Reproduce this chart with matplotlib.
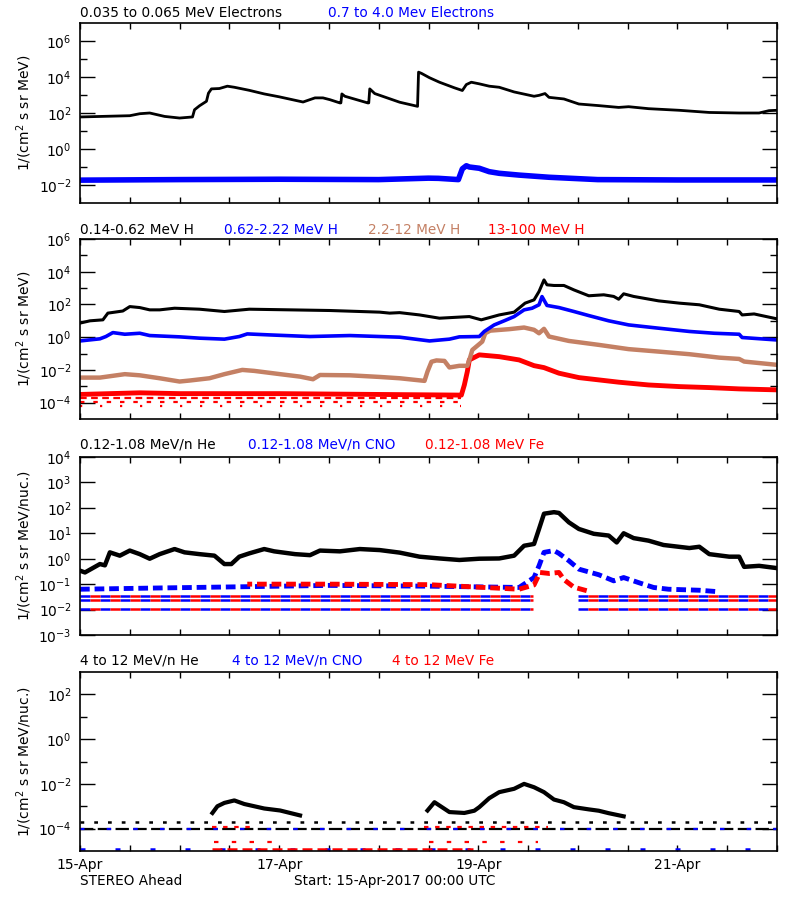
import numpy as np
import matplotlib
matplotlib.use('Agg')
import matplotlib.pyplot as plt
from matplotlib.ticker import FixedLocator, NullFormatter, FuncFormatter

# ---------------- data (time in days since 15-Apr-2017 00:00 UTC, values as log10) -------------
# Panel 1: electrons
e_lo_t = [0.00, 0.50, 0.60, 0.70, 0.85, 1.00, 1.13, 1.15, 1.20, 1.27, 1.29, 1.32, 1.40, 1.48, 1.55,
          1.70, 1.85, 2.00, 2.24, 2.36, 2.44, 2.51, 2.61, 2.62, 2.63, 2.66, 2.89, 2.90, 2.91, 2.96,
          3.21, 3.39, 3.40, 3.43, 3.51, 3.61, 3.76, 3.84, 3.88, 3.93, 4.01, 4.11, 4.21, 4.36, 4.56,
          4.61, 4.67, 4.71, 4.86, 5.01, 5.21, 5.41, 5.51, 5.71, 6.02, 6.32, 6.62, 6.82, 6.92, 7.00]
e_lo_v = [1.78, 1.85, 1.96, 2.00, 1.81, 1.72, 1.78, 2.18, 2.40, 2.65, 3.10, 3.34, 3.36, 3.49, 3.43,
          3.26, 3.06, 2.90, 2.61, 2.84, 2.84, 2.74, 2.56, 2.56, 3.06, 2.93, 2.56, 2.56, 3.34, 3.08,
          2.60, 2.37, 4.27, 4.20, 3.96, 3.71, 3.40, 3.25, 3.58, 3.71, 3.62, 3.49, 3.43, 3.17, 2.93,
          2.98, 3.08, 2.87, 2.78, 2.50, 2.41, 2.31, 2.35, 2.24, 2.15, 2.03, 2.00, 2.00, 2.13, 2.15]
e_hi_t = [0.00, 1.00, 2.00, 3.00, 3.50, 3.60, 3.80, 3.84, 3.88, 3.91, 4.01, 4.11, 4.21, 4.41, 4.71, 5.20, 6.00, 7.00]
e_hi_v = [-1.73, -1.70, -1.68, -1.70, -1.62, -1.63, -1.70, -1.10, -0.93, -1.00, -1.07, -1.26, -1.35,
          -1.45, -1.57, -1.70, -1.72, -1.72]

# Panel 2: protons
h1_t = [0.00, 0.10, 0.23, 0.28, 0.35, 0.43, 0.50, 0.60, 0.70, 0.80, 0.95, 1.20, 1.45, 1.70, 2.11, 2.51,
        3.01, 3.11, 3.21, 3.41, 3.61, 3.91, 4.03, 4.21, 4.36, 4.47, 4.56, 4.61, 4.66, 4.69, 4.76, 4.86,
        4.96, 5.11, 5.26, 5.36, 5.41, 5.46, 5.56, 5.81, 6.02, 6.22, 6.42, 6.62, 6.65, 6.77, 7.00]
h1_v = [0.86, 1.00, 1.06, 1.47, 1.53, 1.60, 1.87, 1.81, 1.67, 1.67, 1.77, 1.71, 1.57, 1.71, 1.67, 1.63,
        1.53, 1.47, 1.50, 1.36, 1.16, 1.26, 1.06, 1.36, 1.53, 2.08, 2.28, 2.79, 3.50, 3.20, 3.16, 3.16,
        2.89, 2.53, 2.59, 2.49, 2.32, 2.65, 2.49, 2.22, 2.08, 1.98, 1.71, 1.57, 1.36, 1.42, 1.12]
h2_t = [0.00, 0.20, 0.26, 0.33, 0.45, 0.60, 0.70, 1.00, 1.20, 1.45, 1.60, 1.68, 1.90, 2.31, 2.71, 3.21,
        3.51, 3.71, 3.81, 4.01, 4.06, 4.16, 4.26, 4.36, 4.46, 4.54, 4.61, 4.64, 4.69, 4.81, 4.96, 5.11,
        5.31, 5.51, 5.81, 6.12, 6.37, 6.62, 6.65, 7.00]
h2_v = [-0.23, -0.10, 0.04, 0.28, 0.18, 0.24, 0.10, 0.02, -0.06, -0.12, 0.04, 0.20, 0.14, 0.04, 0.10, 0.00,
        -0.23, -0.12, 0.02, 0.04, 0.35, 0.75, 1.00, 1.26, 1.67, 1.77, 1.98, 2.48, 1.94, 1.81, 1.57, 1.32,
        1.00, 0.75, 0.55, 0.35, 0.24, 0.18, -0.02, -0.17]
h3_t = [0.00, 0.20, 0.45, 0.60, 0.80, 1.00, 1.10, 1.30, 1.45, 1.63, 1.75, 2.01, 2.21, 2.34, 2.41, 2.71,
        3.01, 3.21, 3.46, 3.49, 3.53, 3.58, 3.66, 3.71, 3.81, 3.89, 3.92, 3.94, 4.04, 4.07, 4.12, 4.31,
        4.46, 4.56, 4.61, 4.66, 4.71, 4.91, 5.21, 5.51, 5.81, 6.12, 6.42, 6.62, 6.67, 7.00]
h3_v = [-2.47, -2.47, -2.26, -2.33, -2.51, -2.71, -2.65, -2.51, -2.26, -2.00, -2.06, -2.26, -2.41, -2.57,
        -2.31, -2.33, -2.43, -2.51, -2.67, -2.10, -1.50, -1.42, -1.45, -1.85, -1.75, -1.75, -1.20, -0.78,
        -0.27, 0.24, 0.40, 0.49, 0.59, 0.45, 0.24, 0.51, 0.04, -0.23, -0.47, -0.73, -0.88, -1.04, -1.25,
        -1.33, -1.49, -1.69]
h4_t = [0.00, 0.60, 1.00, 2.00, 3.00, 3.83, 3.86, 3.89, 3.91, 4.01, 4.21, 4.41, 4.56, 4.66, 4.81, 5.01,
        5.21, 5.41, 5.71, 6.02, 6.32, 6.62, 7.00]
h4_v = [-3.50, -3.40, -3.45, -3.45, -3.50, -3.54, -2.92, -2.10, -1.39, -1.08, -1.19, -1.39, -1.74, -1.86,
        -2.20, -2.47, -2.61, -2.75, -2.92, -3.02, -3.08, -3.16, -3.22]
h4_floor = [-3.73, -3.94, -4.20]
h4_floor_end = 3.83

# Panel 3: 0.12-1.08 MeV/n ions
he_lo_t = [0.00, 0.05, 0.20, 0.25, 0.30, 0.40, 0.50, 0.60, 0.70, 0.80, 0.95, 1.05, 1.20, 1.35, 1.45, 1.52,
           1.60, 1.70, 1.85, 1.95, 2.16, 2.31, 2.41, 2.61, 2.81, 3.01, 3.21, 3.41, 3.61, 3.81, 4.01, 4.21,
           4.36, 4.46, 4.56, 4.61, 4.66, 4.76, 4.81, 4.91, 5.01, 5.16, 5.31, 5.39, 5.46, 5.56, 5.71, 5.86,
           6.12, 6.22, 6.32, 6.52, 6.62, 6.67, 6.82, 7.00]
he_lo_v = [-0.47, -0.54, -0.21, -0.26, 0.25, 0.12, 0.32, 0.18, 0.00, 0.18, 0.38, 0.25, 0.18, 0.12, -0.21,
           -0.21, 0.08, 0.21, 0.38, 0.29, 0.18, 0.14, 0.32, 0.29, 0.38, 0.34, 0.24, 0.08, 0.01, -0.05, 0.00,
           0.01, 0.12, 0.51, 0.58, 1.17, 1.77, 1.83, 1.80, 1.43, 1.17, 0.98, 0.91, 0.64, 1.00, 0.81, 0.71,
           0.54, 0.42, 0.47, 0.18, 0.08, 0.08, -0.32, -0.28, -0.37]
cno_lo_t = [0.00, 0.80, 1.68, 2.50, 3.50, 4.41, 4.56, 4.61, 4.66, 4.76, 4.81, 4.91, 5.01, 5.21, 5.36, 5.46,
            5.61, 5.76, 5.91, 6.22, 6.42]
cno_lo_v = [-1.20, -1.15, -1.10, -1.05, -1.08, -1.13, -0.74, -0.28, 0.25, 0.32, 0.21, -0.08, -0.41, -0.63,
            -0.87, -0.74, -0.94, -1.13, -1.20, -1.24, -1.30]
fe_lo_t = [1.68, 2.50, 3.50, 4.41, 4.56, 4.62, 4.71, 4.81, 4.86, 4.96, 5.11]
fe_lo_v = [-1.00, -1.00, -1.02, -1.20, -1.03, -0.54, -0.58, -0.54, -0.82, -1.12, -1.28]
lo_floor = [-1.46, -1.63, -1.96]
lo_floor_gap = (4.55, 5.00)

# Panel 4: 4-12 MeV/n ions
he_hi1_t = [1.33, 1.38, 1.45, 1.55, 1.65, 1.75, 1.85, 2.01, 2.21]
he_hi1_v = [-3.30, -3.00, -2.85, -2.74, -2.90, -3.00, -3.10, -3.19, -3.41]
he_hi2_t = [3.49, 3.56, 3.71, 3.86, 3.96, 4.01, 4.11, 4.21, 4.36, 4.46, 4.56, 4.66, 4.76, 4.86, 4.96, 5.11,
            5.21, 5.31, 5.46]
he_hi2_v = [-3.19, -2.82, -3.26, -3.30, -3.20, -3.04, -2.64, -2.37, -2.22, -2.00, -2.15, -2.37, -2.70, -2.82,
            -3.04, -3.14, -3.20, -3.31, -3.45]
he_hi_quiet = -3.70
hi_floor = [-4.00, -4.89]
hi_mid_row = -4.60
hi_mid_spans = [(1.35, 2.00), (3.50, 4.60)]
hi_event_fe = -3.93
hi_event_spans = [(1.33, 1.75), (3.45, 4.70)]

# titles
titles = [
    [("0.035 to 0.065 MeV Electrons", 80, "black"), ("0.7 to 4.0 Mev Electrons", 328, "blue")],
    [("0.14-0.62 MeV H", 80, "black"), ("0.62-2.22 MeV H", 224, "blue"),
     ("2.2-12 MeV H", 368, "#C48064"), ("13-100 MeV H", 488, "red")],
    [("0.12-1.08 MeV/n He", 80, "black"), ("0.12-1.08 MeV/n CNO", 248, "blue"),
     ("0.12-1.08 MeV Fe", 425, "red")],
    [("4 to 12 MeV/n He", 80, "black"), ("4 to 12 MeV/n CNO", 232, "blue"),
     ("4 to 12 MeV Fe", 392, "red")],
]
title_y = [13, 230, 445, 661]
ylabels = ["1/(cm$^2$ s sr MeV)", "1/(cm$^2$ s sr MeV)",
           "1/(cm$^2$ s sr MeV/nuc.)", "1/(cm$^2$ s sr MeV/nuc.)"]
xtick_labels = {0: "15-Apr", 2: "17-Apr", 4: "19-Apr", 6: "21-Apr"}

# ---------------- figure ----------------
plt.rcParams['font.family'] = ['DejaVu Sans']
W, H = 800, 900
fig = plt.figure(figsize=(8, 9), dpi=100)

def px_axes(top, bottom, left=80, right=777):
    return fig.add_axes([left / W, 1 - bottom / H, (right - left) / W, (bottom - top) / H])

axes = [px_axes(23, 203), px_axes(239, 419), px_axes(457, 635), px_axes(672, 851)]
ylims = [(1e-3, 1e7), (1e-5, 1e6), (1e-3, 1e4), (1e-5, 1e3)]
majors = [[-2, 0, 2, 4, 6], [-4, -2, 0, 2, 4, 6], [-3, -2, -1, 0, 1, 2, 3, 4], [-4, -2, 0, 2]]
minors = [[-1, 1, 3, 5], [-3, -1, 1, 3, 5], [], [-3, -1, 1]]

def xfmt(v, p):
    k = int(round(v * 2))
    if k % 2 == 0 and (k // 2) in xtick_labels:
        return xtick_labels[k // 2]
    return ""

for i, ax in enumerate(axes):
    ax.set_yscale('log')
    ax.set_xlim(0, 7)
    ax.set_ylim(*ylims[i])
    ax.yaxis.set_major_locator(FixedLocator([10.0 ** e for e in majors[i]]))
    ax.yaxis.set_minor_locator(FixedLocator([10.0 ** e for e in minors[i]]))
    ax.yaxis.set_minor_formatter(NullFormatter())
    ax.yaxis.set_major_formatter(FuncFormatter(lambda v, p: r'$10^{%d}$' % int(round(np.log10(v)))))
    ax.xaxis.set_major_locator(FixedLocator(np.arange(0, 7.01, 0.5)))
    ax.xaxis.set_major_formatter(FuncFormatter(xfmt) if i == 3 else NullFormatter())
    ax.tick_params(axis='y', which='major', direction='in', length=11, width=1,
                   left=True, right=True, labelsize=10, pad=6)
    ax.tick_params(axis='y', which='minor', direction='in', length=5, width=1, left=True, right=True)
    ax.tick_params(axis='x', which='major', direction='in', length=4, width=1,
                   top=True, bottom=True, labelsize=10, pad=5)
    for s in ax.spines.values():
        s.set_linewidth(1.2)
    ax.set_ylabel(ylabels[i], fontsize=10, labelpad=4)
    ax.yaxis.set_label_coords(-0.066, 0.5)
    for txt, x, c in titles[i]:
        fig.text(x / W, 1 - title_y[i] / H, txt, color=c, fontsize=9.8, ha='left', va='center')

def P(a):
    return 10.0 ** np.asarray(a)

# Panel 1
ax = axes[0]
ax.plot(e_hi_t, P(e_hi_v), color='blue', lw=4.0, solid_capstyle='butt')
ax.plot(e_lo_t, P(e_lo_v), color='black', lw=2.0)

# Panel 2
ax = axes[1]
for lev, ls in zip(h4_floor, [(0, (3, 2)), (0, (2, 4)), (0, (1, 8))]):
    ax.plot([0, h4_floor_end], P([lev, lev]), color='red', lw=1.6, ls=ls)
ax.plot(h4_t, P(h4_v), color='red', lw=3.5)
ax.plot(h3_t, P(h3_v), color='#C48064', lw=3.2)
ax.plot(h2_t, P(h2_v), color='blue', lw=2.6)
ax.plot(h1_t, P(h1_v), color='black', lw=2.2)

# Panel 3
ax = axes[2]
spans = [(0.0, lo_floor_gap[0]), (lo_floor_gap[1], 7.0)]
for lev in lo_floor:
    for a, b in spans:
        ax.plot([a, b], P([lev, lev]), color='blue', lw=1.8, ls=(0, (4, 4)))
        ax.plot([a, b], P([lev, lev]), color='red', lw=1.8, ls=(4, (4, 4)))
ax.plot(cno_lo_t, P(cno_lo_v), color='blue', lw=3.5, ls=(0, (2, 1)))
ax.plot(fe_lo_t, P(fe_lo_v), color='red', lw=3.5, ls=(1, (2, 1)))
ax.plot(he_lo_t, P(he_lo_v), color='black', lw=3.2)

# Panel 4
ax = axes[3]
ax.plot([0, 7], P([hi_floor[0], hi_floor[0]]), color='black', lw=1.6, ls=(0, (6, 2)))
ax.plot([0, 7], P([hi_floor[0], hi_floor[0]]), color='blue', lw=1.6, ls=(0, (2, 10)))
ax.plot([0, 7], P([hi_floor[1], hi_floor[1]]), color='blue', lw=1.8, ls=(0, (2, 12)))
ax.plot([1.33, 3.95], P([hi_floor[1], hi_floor[1]]), color='red', lw=1.8, ls=(0, (4, 2)))
for a, b in hi_mid_spans:
    ax.plot([a, b], P([hi_mid_row, hi_mid_row]), color='red', lw=1.6, ls=(0, (2, 6)))
for a, b in hi_event_spans:
    ax.plot([a, b], P([hi_event_fe, hi_event_fe]), color='red', lw=1.6, ls=(0, (2, 3)))
ax.plot([0, 7], P([he_hi_quiet, he_hi_quiet]), color='black', lw=1.8, ls=(0, (1.5, 4)))
ax.plot(he_hi1_t, P(he_hi1_v), color='black', lw=3.0)
ax.plot(he_hi2_t, P(he_hi2_v), color='black', lw=3.0)

fig.text(80 / W, 1 - 881 / H, "STEREO Ahead", fontsize=9.8, ha='left', va='center')
fig.text(294 / W, 1 - 881 / H, "Start: 15-Apr-2017 00:00 UTC", fontsize=9.8, ha='left', va='center')

fig.savefig('out.png', dpi=100, facecolor='white')
